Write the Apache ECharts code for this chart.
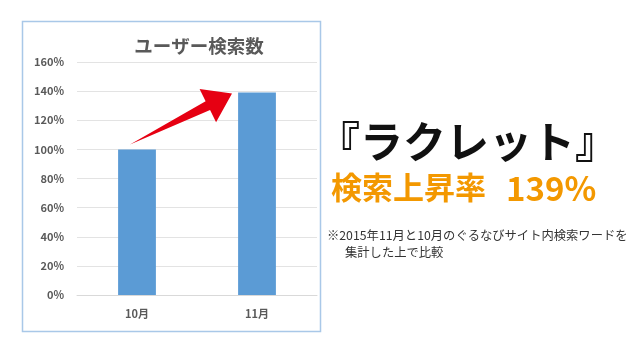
<!DOCTYPE html>
<html><head><meta charset="utf-8">
<script src="https://cdn.jsdelivr.net/npm/echarts@6/dist/echarts.min.js"></script>
<style>html,body{margin:0;padding:0;background:#fff}#c{width:640px;height:360px}</style>
</head><body><div id="c"></div>
<script>
const categories = ['10月', '11月'];
const values = [100, 139];
const yTicks = [0, 20, 40, 60, 80, 100, 120, 140, 160];
const chartTitle = 'ユーザー検索数';
const headline = '『ラクレット』';
const subLabel = '検索上昇率';
const subValue = '139%';
const noteLines = ['※2015年11月と10月のぐるなびサイト内検索ワードを', '集計した上で比較'];

const FONT = '"Noto Sans CJK JP", "Noto Sans", sans-serif';
const chart = echarts.init(document.getElementById('c'), null, {renderer: 'canvas'});
const option = {
  backgroundColor: '#fff',
  animation: false,
  title: {
    text: chartTitle, left: 194, top: 32, textAlign: 'center',
    textStyle: {fontFamily: FONT, fontSize: 18.5, fontWeight: 'bold', color: '#595959'}
  },
  grid: {left: 77, right: 323, top: 62, bottom: 65},
  xAxis: {
    type: 'category', data: categories,
    axisLine: {lineStyle: {color: '#d9d9d9'}},
    axisTick: {show: false},
    axisLabel: {fontFamily: FONT, fontSize: 11, fontWeight: 'bold', color: '#595959', margin: 13}
  },
  yAxis: {
    type: 'value', min: yTicks[0], max: yTicks[yTicks.length - 1], interval: 20,
    axisLine: {show: false}, axisTick: {show: false},
    splitLine: {lineStyle: {color: '#e3e3e3'}},
    axisLabel: {formatter: '{value}%', fontFamily: FONT, fontSize: 11, fontWeight: 'bold', color: '#595959', margin: 13}
  },
  series: [{
    type: 'bar', data: values, barWidth: '31.5%',
    itemStyle: {color: '#5b9bd5'}
  }]
};
chart.setOption(option);

const p0 = chart.convertToPixel({seriesIndex: 0}, [categories[0], values[0]]);
const p1 = chart.convertToPixel({seriesIndex: 0}, [categories[1], values[1]]);
// arrow from above first bar toward second bar's top-left
const T = [p0[0] - 7, p0[1] - 5];
const P = [p1[0] - 25, p1[1] + 1];
const dx = P[0] - T[0], dy = P[1] - T[1];
const L = Math.hypot(dx, dy);
const u = [dx / L, dy / L];
const n = [-u[1], u[0]];
const headLen = 27, headHalf = 18.5, shaftHalf = 5;
const B = [P[0] - headLen * u[0], P[1] - headLen * u[1]];
const pt = (b, k) => [b[0] + k * n[0], b[1] + k * n[1]];
const arrow = [T, pt(B, shaftHalf), pt(B, headHalf), P, pt(B, -headHalf), pt(B, -shaftHalf)];

chart.setOption({
  graphic: [
    {type: 'rect', shape: {x: 22.5, y: 21.5, width: 298, height: 310}, style: {fill: 'none', stroke: '#a9c8e8', lineWidth: 1.5}, z: 0},
    {type: 'polygon', shape: {points: arrow}, style: {fill: '#e60012'}, z: 100},
    {type: 'text', left: 317, top: 120, style: {text: headline, font: 'bold 43px ' + FONT, fill: '#111'}},
    {type: 'text', left: 331, top: 172, style: {text: subLabel, font: 'bold 31px ' + FONT, fill: '#f39800'}},
    {type: 'text', left: 506, top: 172, style: {text: subValue, font: 'bold 33px ' + FONT, fill: '#f39800'}},
    {type: 'text', left: 327, top: 229, style: {text: noteLines[0], font: '12.3px ' + FONT, fill: '#333'}},
    {type: 'text', left: 345, top: 246, style: {text: noteLines[1], font: '12.3px ' + FONT, fill: '#333'}}
  ]
});
</script></body></html>
